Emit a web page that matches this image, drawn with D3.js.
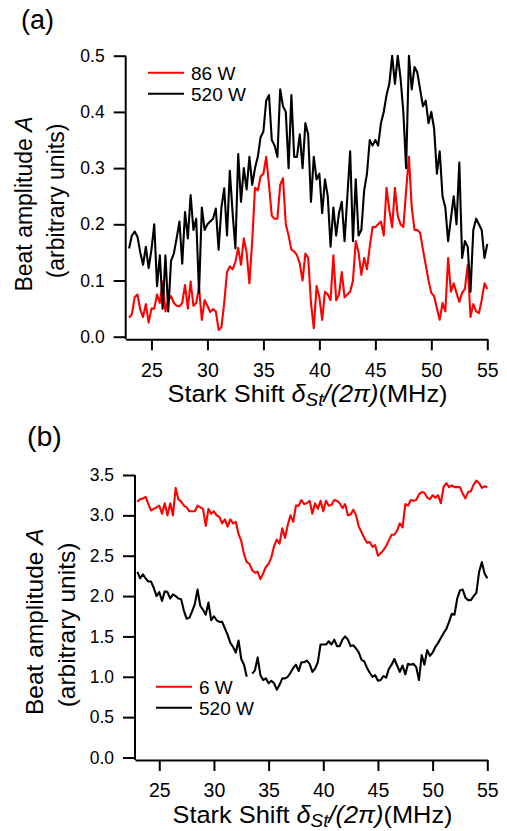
<!DOCTYPE html>
<html>
<head>
<meta charset="utf-8">
<script src="https://cdn.jsdelivr.net/npm/d3@7"></script>
<style>
  body { margin: 0; background: #fff; }
  svg { display: block; }
  text { font-family: Arial, "Liberation Sans", sans-serif; fill: #000; }
  .axis path, .axis line { stroke: #000; stroke-width: 2; }
  .y-axis text { font-size: 17.5px; }
  .x-axis text { font-size: 19.5px; }
</style>
</head>
<body>
<div id="chart-area"></div>
<script>
// Stark shift grid (MHz): samples every 0.25 MHz from 23 to 55
let shiftStart = 23, shiftStep = 0.25, shiftEnd = 55;

// panel (a) beat amplitude
let redA = [
  0.034, 0.040, 0.070, 0.075, 0.048, 0.035, 0.058, 0.025, 0.050, 0.050,
  0.075, 0.060, 0.098, 0.045, 0.066, 0.072, 0.060, 0.055, 0.054, 0.060,
  0.092, 0.050, 0.098, 0.055, 0.060, 0.088, 0.030, 0.065, 0.055, 0.044,
  0.049, 0.045, 0.012, 0.017, 0.060, 0.115, 0.125, 0.120, 0.133, 0.158,
  0.128, 0.175, 0.150, 0.095, 0.170, 0.265, 0.260, 0.285, 0.290, 0.320,
  0.270, 0.215, 0.210, 0.210, 0.270, 0.282, 0.200, 0.180, 0.155, 0.152,
  0.145, 0.130, 0.100, 0.148, 0.140, 0.060, 0.015, 0.090, 0.070, 0.030,
  0.080, 0.075, 0.065, 0.145, 0.065, 0.075, 0.115, 0.070, 0.075, 0.080,
  0.100, 0.170, 0.150, 0.110, 0.140, 0.120, 0.160, 0.195, 0.195, 0.200,
  0.205, 0.180, 0.265, 0.225, 0.195, 0.265, 0.215, 0.200, 0.195, 0.260,
  0.320, 0.230, 0.190, 0.190, 0.185, 0.155, 0.128, 0.100, 0.078, 0.072,
  0.050, 0.030, 0.060, 0.045, 0.140, 0.080, 0.095, 0.078, 0.062, 0.078,
  0.085, 0.128, 0.035, 0.058, 0.045, 0.042, 0.065, 0.095, 0.085
];
let blackA = [
  0.157, 0.180, 0.187, 0.178, 0.150, 0.128, 0.160, 0.122, 0.155, 0.200,
  0.090, 0.145, 0.050, 0.145, 0.045, 0.135, 0.148, 0.175, 0.205, 0.130,
  0.222, 0.175, 0.252, 0.190, 0.210, 0.078, 0.230, 0.190, 0.200, 0.205,
  0.210, 0.228, 0.155, 0.230, 0.264, 0.180, 0.295, 0.220, 0.157, 0.325,
  0.240, 0.300, 0.262, 0.320, 0.270, 0.300, 0.320, 0.355, 0.365, 0.420,
  0.430, 0.350, 0.340, 0.320, 0.440, 0.410, 0.400, 0.300, 0.430, 0.320,
  0.320, 0.360, 0.300, 0.380, 0.360, 0.240, 0.320, 0.280, 0.290, 0.220,
  0.280, 0.250, 0.160, 0.230, 0.180, 0.220, 0.240, 0.170, 0.250, 0.330,
  0.170, 0.280, 0.180, 0.190, 0.260, 0.290, 0.350, 0.340, 0.350, 0.340,
  0.380, 0.400, 0.430, 0.450, 0.500, 0.450, 0.500, 0.460, 0.400, 0.300,
  0.500, 0.440, 0.480, 0.470, 0.440, 0.410, 0.420, 0.380, 0.400, 0.370,
  0.290, 0.330, 0.250, 0.230, 0.170, 0.210, 0.250, 0.200, 0.310, 0.140,
  0.170, 0.160, 0.080, 0.190, 0.210, 0.200, 0.190, 0.140, 0.165
];

// panel (b) beat amplitude (null = gap in the trace)
let redB = [
  3.17, 3.20, 3.21, 3.23, 3.14, 3.06, 3.08, 3.10, 3.12, 3.02,
  3.15, 3.00, 3.15, 3.00, 3.34, 3.20, 3.17, 3.12, 3.10, 3.05,
  3.05, 3.05, 3.12, 3.10, 3.08, 2.87, 3.08, 3.02, 3.05, 3.00,
  2.98, 2.90, 2.95, 2.86, 2.95, 2.90, 2.92, 2.77, 2.68, 2.52,
  2.42, 2.40, 2.32, 2.29, 2.30, 2.21, 2.28, 2.36, 2.40, 2.48,
  2.62, 2.70, 2.65, 2.84, 2.72, 2.88, 3.00, 2.92, 3.12, 3.12,
  3.19, 3.14, 3.15, 3.18, 3.02, 3.15, 3.08, 3.18, 3.05, 3.18,
  3.12, 3.13, 3.19, 3.18, 3.15, 3.09, 3.14, 3.00, 3.01, 3.07,
  3.00, 2.86, 2.79, 2.72, 2.66, 2.67, 2.61, 2.63, 2.50, 2.53,
  2.57, 2.62, 2.69, 2.76, 2.76, 2.81, 2.90, 2.85, 3.14, 3.12,
  3.19, 3.18, 3.19, 3.26, 3.29, 3.28, 3.22, 3.20, 3.25, 3.22,
  3.25, 3.15, 3.35, 3.40, 3.35, 3.37, 3.35, 3.35, 3.35, 3.27,
  3.21, 3.29, 3.30, 3.38, 3.43, 3.40, 3.34, 3.36, 3.35
];
let blackB = [
  2.30, 2.22, 2.27, 2.22, 2.18, 2.18, 2.10, 2.00, 2.05, 1.94,
  2.06, 2.05, 1.97, 2.02, 2.00, 1.97, 1.96, 1.82, 1.72, 1.73,
  1.81, 1.90, 2.08, 1.88, 1.83, 1.77, 1.92, 1.70, 1.75, 1.70,
  1.68, 1.68, 1.60, 1.52, 1.42, 1.37, 1.30, 1.45, 1.22, 1.15,
  1.00, null, 1.04, 1.08, 1.24, 1.02, 0.96, 0.98, 0.92, 0.95,
  0.92, 0.84, 0.90, 0.98, 0.98, 1.00, 1.05, 1.11, 1.15, 1.07,
  1.18, 1.18, 1.20, 1.16, 1.06, 1.10, 1.18, 1.40, 1.40, 1.40,
  1.44, 1.40, 1.46, 1.38, 1.38, 1.46, 1.50, 1.46, 1.38, 1.39,
  1.35, 1.30, 1.21, 1.19, 1.11, 1.05, 1.00, 1.02, 0.95, 0.96,
  1.01, 0.99, 1.10, 1.15, 1.22, 1.14, 1.06, 1.14, 1.03, 1.16,
  1.15, 1.16, 1.12, 0.96, 1.27, 1.15, 1.33, 1.26, 1.30, 1.37,
  1.42, 1.48, 1.54, 1.59, 1.68, 1.78, 1.77, 1.97, 2.07, 2.08,
  1.98, 1.95, 1.95, 2.00, 2.04, 2.30, 2.42, 2.28, 2.22
];

// ticks and labels
let xTicks = [25, 30, 35, 40, 45, 50, 55];
let yTicksA = [0.0, 0.1, 0.2, 0.3, 0.4, 0.5];
let yTicksB = [0.0, 0.5, 1.0, 1.5, 2.0, 2.5, 3.0, 3.5];
let legendA = ['86 W', '520 W'];
let legendB = ['6 W', '520 W'];
let seriesColors = ['#ff0000', '#000000'];

let shifts = d3.range(shiftStart, shiftEnd + shiftStep / 2, shiftStep);

let svg = d3.select('#chart-area')
  .append('svg')
  .attr('width', 507)
  .attr('height', 831);

// draw one panel
function drawPanel(p) {
  let g = svg.append('g');

  let x = d3.scaleLinear().domain(p.xDomain).range(p.xRange);
  let y = d3.scaleLinear().domain(p.yDomain).range(p.yRange);

  // axes
  let yAxis = d3.axisLeft(y)
    .tickValues(p.yTicks)
    .tickSize(12)
    .tickSizeOuter(0)
    .tickPadding(9)
    .tickFormat(d3.format('.1f'));
  let ySvg = g.append('g')
    .attr('class', 'axis y-axis')
    .attr('transform', 'translate(' + p.xRange[0] + ',0)')
    .call(yAxis);
  ySvg.select('.domain').attr('d', 'M0,' + p.yRange[1] + 'V' + p.axisY);

  let xAxis = d3.axisBottom(x)
    .tickValues(xTicks)
    .tickSize(11)
    .tickSizeOuter(0)
    .tickPadding(12.5);
  g.append('g')
    .attr('class', 'axis x-axis')
    .attr('transform', 'translate(0,' + p.axisY + ')')
    .call(xAxis);

  // traces
  let line = d3.line()
    .defined(d => d[1] !== null)
    .x(d => x(d[0]))
    .y(d => y(d[1]));

  p.series.forEach((s, i) => {
    g.append('path')
      .datum(shifts.map((v, j) => [v, s[j]]))
      .attr('fill', 'none')
      .attr('stroke', seriesColors[i])
      .attr('stroke-width', 2.1)
      .attr('stroke-linejoin', 'round')
      .attr('d', line);
  });

  // legend
  p.legend.forEach((name, i) => {
    let ly = p.legendY + i * 21;
    g.append('line')
      .attr('x1', p.legendX).attr('x2', p.legendX + 36)
      .attr('y1', ly).attr('y2', ly)
      .attr('stroke', seriesColors[i])
      .attr('stroke-width', 2);
    g.append('text')
      .attr('x', p.legendX + 43)
      .attr('y', ly + 7)
      .attr('font-size', '19px')
      .text(name);
  });

  // panel tag
  g.append('text')
    .attr('x', p.tagX).attr('y', p.tagY)
    .attr('font-size', p.tagSize)
    .text(p.tag);

  // x title (the original lettering is a little wider than Arial)
  let xt = g.append('text')
    .attr('transform', 'translate(' + p.xTitleX + ',' + p.xTitleY + ') scale(1.08,1)')
    .attr('text-anchor', 'middle')
    .attr('font-size', '23.5px');
  xt.append('tspan').text('Stark Shift ');
  xt.append('tspan').attr('font-style', 'italic').text('\u03b4');
  xt.append('tspan').attr('font-style', 'italic').attr('font-size', '17.5px').attr('dy', 4).text('St');
  xt.append('tspan').attr('font-style', 'italic').attr('dy', -4).text('/(2\u03c0)');
  xt.append('tspan').text('(MHz)');

  // y title, two lines
  let yt1 = g.append('text')
    .attr('transform', 'translate(' + p.yTitleX[0] + ',' + p.yTitleY[0] + ') rotate(-90)')
    .attr('text-anchor', 'middle')
    .attr('font-size', p.yTitleSize);
  yt1.append('tspan').text('Beat amplitude ');
  yt1.append('tspan').attr('font-style', 'italic').text('A');

  g.append('text')
    .attr('transform', 'translate(' + p.yTitleX[1] + ',' + p.yTitleY[1] + ') rotate(-90)')
    .attr('text-anchor', 'middle')
    .attr('font-size', p.yTitleSize)
    .text('(arbitrary units)');
}

drawPanel({
  series: [redA, blackA],
  legend: legendA,
  yTicks: yTicksA,
  xDomain: [22.7, 55], xRange: [125.7, 487.3],
  yDomain: [0, 0.5], yRange: [336.7, 55.7],
  axisY: 339.3,
  legendX: 148, legendY: 72.7,
  tag: '(a)', tagX: 21, tagY: 29, tagSize: '27px',
  xTitleX: 307.5, xTitleY: 402,
  yTitleX: [32, 64], yTitleY: [204, 201], yTitleSize: '23px'
});

drawPanel({
  series: [redB, blackB],
  legend: legendB,
  yTicks: yTicksB,
  xDomain: [22.78, 55], xRange: [135, 487.3],
  yDomain: [0, 3.5], yRange: [757.5, 475],
  axisY: 760,
  legendX: 156, legendY: 686.7,
  tag: '(b)', tagX: 27, tagY: 446, tagSize: '28.5px',
  xTitleX: 312.5, xTitleY: 822.5,
  yTitleX: [43, 75], yTitleY: [621.7, 625], yTitleSize: '24.5px'
});
</script>
</body>
</html>
